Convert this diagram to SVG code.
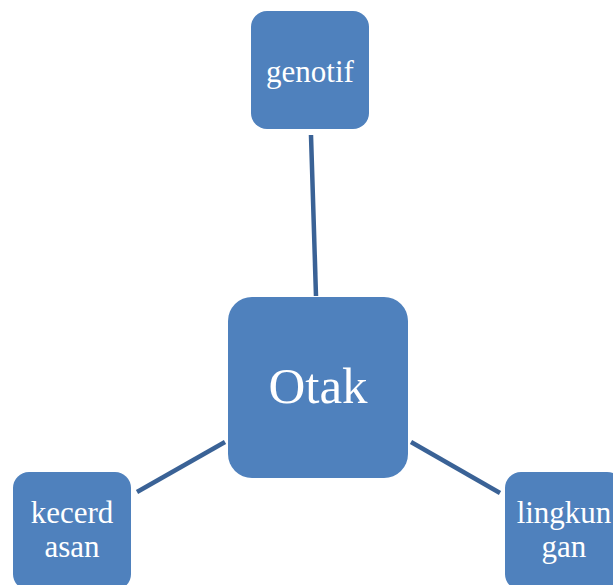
<svg xmlns="http://www.w3.org/2000/svg" width="613" height="585" viewBox="0 0 613 585">
<style>
.box{fill:#4f81bd;}
.lbl{font-family:"Liberation Serif","Times New Roman",serif;fill:#ffffff;text-anchor:middle;font-size:31px;}
.conn{stroke:#3a6296;stroke-width:4.5;fill:none;}
</style>
<rect width="613" height="585" fill="#ffffff"/>
<g id="connectors">
<line class="conn" x1="311" y1="135" x2="316" y2="296"/>
<line class="conn" x1="137" y1="492" x2="225" y2="442"/>
<line class="conn" x1="411" y1="442" x2="500" y2="493"/>
</g>
<g id="genotif">
<rect class="box" x="251" y="11" width="118" height="118" rx="16"/>
<text class="lbl" x="310" y="82">genotif</text>
</g>
<g id="otak">
<rect class="box" x="228" y="297" width="180" height="181" rx="24"/>
<text class="lbl" x="318" y="403" style="font-size:51px">Otak</text>
</g>
<g id="kecerdasan">
<rect class="box" x="13" y="472" width="118" height="118" rx="16"/>
<text class="lbl" x="72" y="523">kecerd</text>
<text class="lbl" x="72" y="557">asan</text>
</g>
<g id="lingkungan">
<rect class="box" x="505" y="472" width="118" height="118" rx="16"/>
<text class="lbl" x="564" y="523">lingkun</text>
<text class="lbl" x="564" y="557">gan</text>
</g>
</svg>
